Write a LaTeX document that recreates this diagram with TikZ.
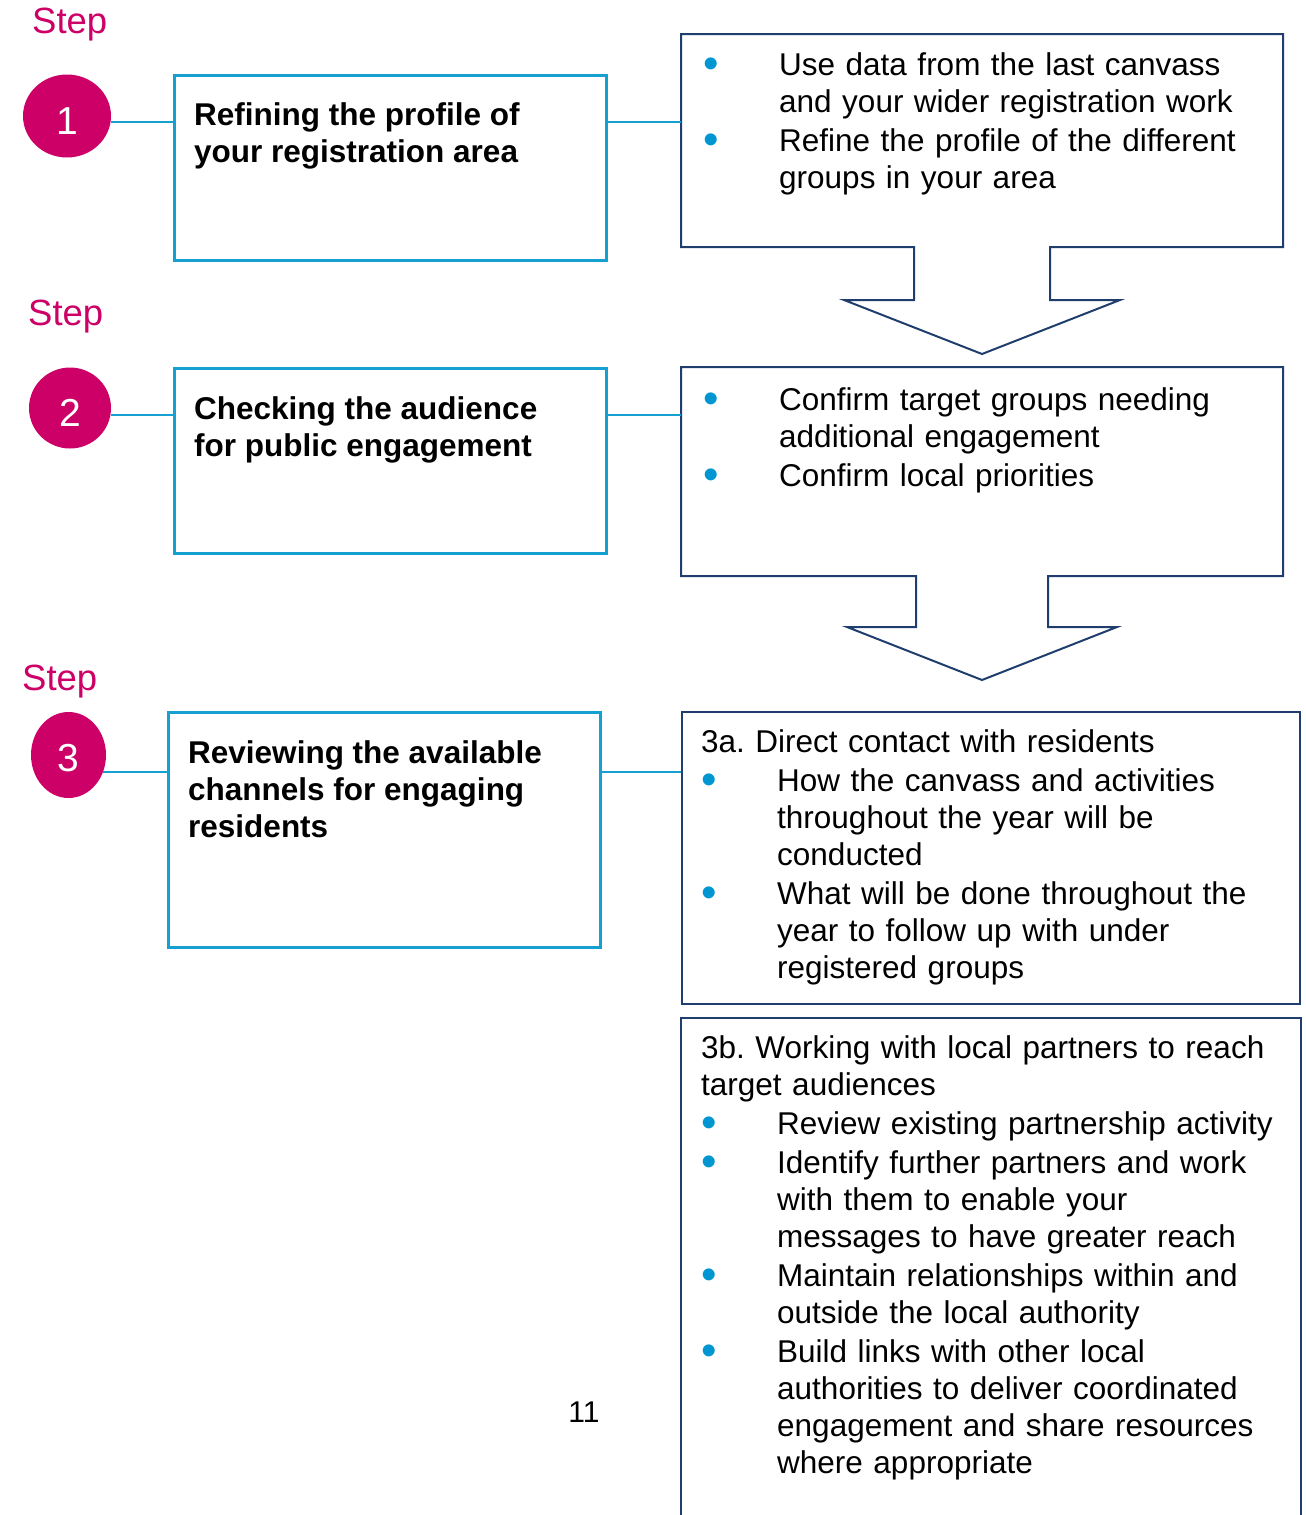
\documentclass[tikz,border=0pt]{standalone}
\usepackage{fontspec}
\setmainfont{Liberation Sans}
\usepackage{xcolor}
\usetikzlibrary{shapes.geometric}

\definecolor{stepred}{RGB}{204,0,102}
\definecolor{lineblue}{RGB}{22,160,210}
\definecolor{navy}{RGB}{31,62,109}
\definecolor{dotblue}{RGB}{0,150,210}

% bullet paragraphs, hanging indent for the wrapped lines (break them with \newline,
% close the last one with \par inside the node)
\newcommand\dotmark{\noindent\hangindent=76pt\hangafter=1\strut\makebox[76pt][l]{\textcolor{dotblue}{\raisebox{-3pt}{\scalebox{1.4}{\textbullet}}}}}
\newcommand\dotitem{\par\dotmark}

\begin{document}
\begin{tikzpicture}[x=1pt, y=-1pt,
  steplabel/.style={text=stepred, font=\fontsize{36.5}{40}\selectfont, inner sep=0, anchor=base west},
  stepdot/.style={ellipse, fill=stepred, text=white, font=\fontsize{39}{40}\selectfont, inner sep=0,
    text height=36pt, text depth=0pt},
  stagebox/.style={draw=lineblue, line width=2.5pt, anchor=north west, inner sep=0},
  stagetext/.style={font=\fontsize{31.5}{37}\selectfont\bfseries, align=left, anchor=north west, inner sep=0},
  notebox/.style={draw=navy, line width=2pt, anchor=north west, inner sep=0},
  notetext/.style={font=\fontsize{31.5}{37}\selectfont, text width=590pt, align=left, anchor=north west, inner sep=0,
    execute at begin node=\setlength{\parskip}{2pt}},
  link/.style={draw=lineblue, line width=2pt}]
\useasboundingbox (0,0) rectangle (1306,1515);

% step 1
\node [steplabel] (s1) at (32,33) {Step};
\node [stepdot, minimum width=88pt, minimum height=83pt] (c1) at (67,116) {1};
\node [stagebox, minimum width=432pt, minimum height=185pt] (b1) at (173,74) {};
\node [stagetext] (t1) at (194,99) {\strut Refining the profile of\\your registration area};
\node [notebox, draw=none, minimum width=600pt, minimum height=211pt] (r1) at (681,34) {};
\node [notetext] (n1) at (703,49) {%
  \dotmark Use data from the last canvass\newline and your wider registration work
  \dotitem Refine the profile of the different\newline groups in your area\par};
\draw [navy, line width=2pt] (r1.south west) -- (r1.north west) -- (r1.north east) -- (r1.south east)
  -- ([xshift=68pt]r1.south) -- ++(0,53) -- ++(70,0) -- ++(-138,54) -- ++(-138,-54) -- ++(70,0) -- ++(0,-53) -- cycle;
\draw [link] (c1.-8) -- (c1.-8 -| b1.west);
\draw [link] (b1.east |- c1.-8) -- (c1.-8 -| r1.west);

% step 2
\node [steplabel] (s2) at (28,325) {Step};
\node [stepdot, minimum width=82pt, minimum height=81pt] (c2) at (70,408) {2};
\node [stagebox, minimum width=432pt, minimum height=185pt] (b2) at (173,367) {};
\node [stagetext] (t2) at (194,393) {\strut Checking the audience\\for public engagement};
\node [notebox, draw=none, minimum width=600pt, minimum height=207pt] (r2) at (681,367) {};
\node [notetext] (n2) at (703,384) {%
  \dotmark Confirm target groups needing\newline additional engagement
  \dotitem Confirm local priorities\par};
\draw [navy, line width=2pt] (r2.south west) -- (r2.north west) -- (r2.north east) -- (r2.south east)
  -- ([xshift=66pt]r2.south) -- ++(0,51) -- ++(69,0) -- ++(-135,53) -- ++(-135,-53) -- ++(69,0) -- ++(0,-51) -- cycle;
\draw [link] (c2.-10) -- (c2.-10 -| b2.west);
\draw [link] (b2.east |- c2.-10) -- (c2.-10 -| r2.west);

% step 3
\node [steplabel] (s3) at (22,690) {Step};
\node [stepdot, minimum width=75pt, minimum height=86pt, text height=33pt] (c3) at (68.5,755) {3};
\node [stagebox, minimum width=432pt, minimum height=235pt] (b3) at (167,711) {};
\node [stagetext] (t3) at (188,737) {\strut Reviewing the available\\channels for engaging\\residents};
\node [notebox, minimum width=618pt, minimum height=292pt] (r3a) at (681,711) {};
\node [notetext] (n3a) at (701,726) {%
  \strut 3a.\ Direct contact with residents
  \dotitem How the canvass and activities\newline throughout the year will be\newline conducted
  \dotitem What will be done throughout the\newline year to follow up with under\newline registered groups\par};
\draw [link] (c3.-26) -- (c3.-26 -| b3.west);
\draw [link] (b3.east |- c3.-26) -- (c3.-26 -| r3a.west);

% 3b runs on past the page foot
\node [notebox, draw=none, minimum width=618pt, minimum height=510pt] (r3b) at (681,1018) {};
\draw [navy, line width=2pt] (r3b.south west) -- (r3b.north west) -- (r3b.north east) -- (r3b.south east);
\node [notetext] (n3b) at (701,1032) {%
  \strut 3b.\ Working with local partners to reach\newline target audiences
  \dotitem Review existing partnership activity
  \dotitem Identify further partners and work\newline with them to enable your\newline messages to have greater reach
  \dotitem Maintain relationships within and\newline outside the local authority
  \dotitem Build links with other local\newline authorities to deliver coordinated\newline engagement and share resources\newline where appropriate\par};

\node [font=\fontsize{30}{36}\selectfont, inner sep=0] (pg) at (584,1412) {11};
\end{tikzpicture}
\end{document}
